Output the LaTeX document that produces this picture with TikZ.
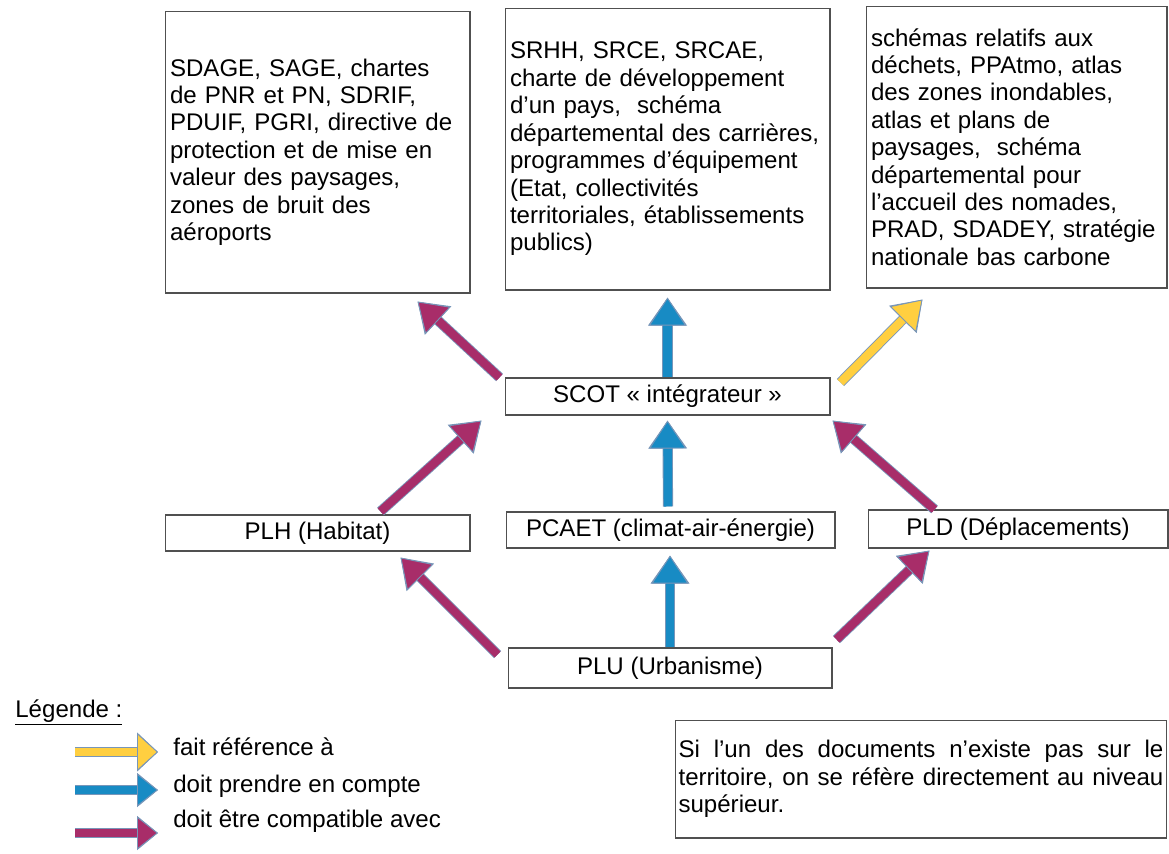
\documentclass[tikz,border=0pt]{standalone}
\usepackage{fontspec}
\setmainfont{Liberation Sans}
\usetikzlibrary{arrows.meta}

\definecolor{boxline}{RGB}{80,80,80}
\definecolor{refyellow}{RGB}{255,207,64}
\definecolor{takeblue}{RGB}{24,139,196}
\definecolor{compatpurple}{RGB}{168,45,105}
\definecolor{arrowedge}{RGB}{120,150,185}

\tikzset{
  docbox/.style={draw=boxline, line width=0.6pt, align=left, inner xsep=0.1cm, inner ysep=0pt, minimum height=5.64cm},
  planbox/.style={draw=boxline, line width=0.6pt, inner sep=0pt},
  bigarrow/.style n args={3}{draw=#1, line width=4.8pt, line cap=butt,
    -{Triangle[width=#3, length=#2, line width=0.5pt, color=arrowedge, fill=#1]},
    preaction={draw=arrowedge, line width=5.8pt, -{Triangle[width=#3, length=#2]}}},
  refarrow/.style={bigarrow={refyellow}{0.56cm}{0.74cm}},
  takearrow/.style={bigarrow={takeblue}{0.56cm}{0.74cm}},
  compatarrow/.style={bigarrow={compatpurple}{0.56cm}{0.74cm}},
}

\begin{document}
\begin{tikzpicture}[x=0.02cm, y=-0.02cm, font=\fontsize{13.7}{15.6}\selectfont]
\useasboundingbox (0,0) rectangle (1169,853);
% Upper-level documents
\node[docbox, text width=5.9cm] (docsA) at (317.5,152) {SDAGE, SAGE, chartes\\de PNR et PN, SDRIF,\\PDUIF, PGRI, directive de\\protection et de mise en\\valeur des paysages,\\zones de bruit des\\aéroports};
\node[docbox, text width=6.3cm] (docsB) at (667.5,149) {SRHH, SRCE, SRCAE,\\charte de développement\\d’un pays,\ \ schéma\\départemental des carrières,\\programmes d’équipement\\(Etat, collectivités\\territoriales, établissements\\publics)};
\node[docbox, text width=5.82cm] (docsC) at (1016.5,147) {schémas relatifs aux\\déchets, PPAtmo, atlas\\des zones inondables,\\atlas et plans de\\paysages,\ \ schéma\\départemental pour\\l’accueil des nomades,\\PRAD, SDADEY, stratégie\\nationale bas carbone};
% SCOT and plans
\node[planbox, minimum width=6.5cm, minimum height=0.74cm] (scot) at (667.5,396.5) {SCOT « intégrateur »};
\node[planbox, minimum width=6.1cm, minimum height=0.72cm] (plh) at (317.5,533) {PLH (Habitat)};
\node[planbox, minimum width=6.58cm, minimum height=0.72cm] (pcaet) at (670.5,530) {PCAET (climat-air-énergie)};
\node[planbox, minimum width=6.0cm, minimum height=0.76cm] (pld) at (1018,529) {PLD (Déplacements)};
\node[planbox, minimum width=6.48cm, minimum height=0.8cm] (plu) at (670,668) {PLU (Urbanisme)};
% SCOT -> upper documents
\draw[compatarrow] ([shift={(-5,0)}]scot.north west) -- ([shift={(-53,8)}]docsA.south east);
\draw[takearrow] (scot.north) -- ([shift={(0,7)}]docsB.south);
\draw[refarrow] ([shift={(10,5)}]scot.north east) -- ([shift={(57,11)}]docsC.south west);
% plans -> SCOT
\draw[compatarrow] ([shift={(-90,-3)}]plh.north east) -- ([shift={(-23,5)}]scot.south west);
\draw[takearrow] ([shift={(-2.5,-5)}]pcaet.north) -- ([shift={(0,5)}]scot.south);
\draw[compatarrow] ([shift={(67,0)}]pld.north west) -- ([shift={(2,5)}]scot.south east);
% PLU -> plans
\draw[compatarrow] ([shift={(-10,7)}]plu.north west) -- ([shift={(-70,6)}]plh.south east);
\draw[takearrow] (plu.north) -- ([shift={(-0.5,7)}]pcaet.south);
\draw[compatarrow] ([shift={(4,-8)}]plu.north east) -- ([shift={(62,2)}]pld.south west);
% Legend
\node[anchor=base west, inner sep=0pt] (legtitle) at (15,717) {\underline{Légende :}};
\node[anchor=base west, inner sep=0pt] (legref) at (173,755) {fait référence à};
\node[anchor=base west, inner sep=0pt] (legtake) at (173,792) {doit prendre en compte};
\node[anchor=base west, inner sep=0pt] (legcompat) at (173,827) {doit être compatible avec};
\coordinate (lref) at (75,752);
\coordinate (ltake) at (75,790);
\coordinate (lcompat) at (75,833);
\draw[bigarrow={refyellow}{0.42cm}{0.76cm}] (lref) -- ([xshift=-0.3cm]lref -| legref.west);
\draw[bigarrow={takeblue}{0.42cm}{0.66cm}] (ltake) -- ([xshift=-0.3cm]ltake -| legtake.west);
\draw[bigarrow={compatpurple}{0.42cm}{0.66cm}] (lcompat) -- ([xshift=-0.3cm]lcompat -| legcompat.west);
% Note
\node[draw=boxline, line width=0.6pt, align=justify, text width=9.7cm, inner xsep=0.07cm, inner ysep=0pt, minimum height=2.36cm] (note) at (921,779)
  {\hyphenpenalty=10000 Si l’un des documents n’existe pas sur le\linebreak territoire, on se réfère directement au niveau\linebreak supérieur.};
\end{tikzpicture}
\end{document}
